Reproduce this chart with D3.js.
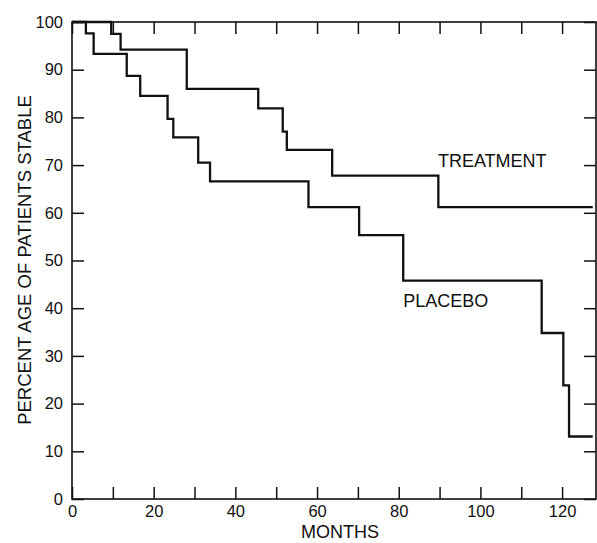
<!DOCTYPE html>
<html>
<head>
<meta charset="utf-8">
<script src="https://cdn.jsdelivr.net/npm/d3@7"></script>
<style>
  html, body { margin: 0; padding: 0; background: #fff; }
  text { font-family: "Liberation Sans", Arial, Helvetica, sans-serif; fill: #111; }
</style>
</head>
<body>
<svg id="chart" width="597" height="543"></svg>
<script>
// ---- data ----
const treatmentMonths = [0, 9.6, 11.9, 28.1, 45.6, 51.6, 52.6, 63.7, 89.7, 127.5];
const treatmentValues = [100, 97.5, 94.2, 86.0, 81.9, 77.0, 73.2, 67.8, 61.2, 61.2];
const placeboMonths = [0, 3.4, 5.3, 13.4, 16.7, 23.4, 24.8, 30.9, 33.8, 57.9, 70.3, 81.1, 115.0, 120.3, 121.7, 127.5];
const placeboValues = [100, 97.6, 93.3, 88.7, 84.5, 79.7, 75.8, 70.5, 66.6, 61.2, 55.3, 45.8, 34.8, 23.8, 13.1, 13.1];
const xTickValues = [0, 10, 20, 30, 40, 50, 60, 70, 80, 90, 100, 110, 120];
const xTickLabels = ["0", "", "20", "", "40", "", "60", "", "80", "", "100", "", "120"];
const yTickValues = [0, 10, 20, 30, 40, 50, 60, 70, 80, 90, 100];
const seriesLabels = ["TREATMENT", "PLACEBO"];

// ---- layout ----
const svg = d3.select("#chart");
const L = 72, R = 596, T = 22, B = 499;
const x = d3.scaleLinear().domain([0, 128.3]).range([L, R]);
const y = d3.scaleLinear().domain([0, 100]).range([B, T]);

// frame
svg.append("rect").attr("x", L).attr("y", T).attr("width", R - L).attr("height", B - T)
  .attr("fill", "none").attr("stroke", "#111").attr("stroke-width", 1.6);

function styleAxis(g) {
  g.select(".domain").remove();
  g.selectAll(".tick line").attr("stroke", "#111").attr("stroke-width", 1.5);
  g.selectAll(".tick text").style("font-size", "16.5px").attr("fill", "#111");
}

// bottom axis
svg.append("g").attr("transform", `translate(0,${B})`)
  .call(d3.axisBottom(x).tickValues(xTickValues).tickSize(-12).tickPadding(6)
    .tickFormat((d, i) => xTickLabels[i]))
  .call(styleAxis);
// top axis (ticks only)
svg.append("g").attr("transform", `translate(0,${T})`)
  .call(d3.axisTop(x).tickValues(xTickValues).tickSize(-12).tickFormat(""))
  .call(styleAxis);
// left axis
svg.append("g").attr("transform", `translate(${L},0)`)
  .call(d3.axisLeft(y).tickValues(yTickValues).tickSize(-12).tickPadding(9)
    .tickFormat(d3.format("d")))
  .call(styleAxis);
// right axis (ticks only)
svg.append("g").attr("transform", `translate(${R},0)`)
  .call(d3.axisRight(y).tickValues(yTickValues).tickSize(-12).tickFormat(""))
  .call(styleAxis);

// curves
const line = d3.line().x(d => x(d[0])).y(d => y(d[1])).curve(d3.curveStepAfter);
const tData = treatmentMonths.map((m, i) => [m, treatmentValues[i]]);
const pData = placeboMonths.map((m, i) => [m, placeboValues[i]]);
[tData, pData].forEach(d => {
  svg.append("path").datum(d).attr("d", line)
    .attr("fill", "none").attr("stroke", "#111").attr("stroke-width", 2.3)
    .attr("stroke-linejoin", "miter");
});

// series labels
svg.append("text").attr("x", x(89.6)).attr("y", y(69.7)).style("font-size", "18px").text(seriesLabels[0]);
svg.append("text").attr("x", x(81.1)).attr("y", y(40.3)).style("font-size", "18px").text(seriesLabels[1]);

// axis titles
svg.append("text").attr("x", 340).attr("y", 538).attr("text-anchor", "middle")
  .style("font-size", "18px").text("MONTHS");
svg.append("text").attr("transform", "translate(31,260) rotate(-90)").attr("text-anchor", "middle")
  .style("font-size", "18.5px").text("PERCENT AGE OF PATIENTS STABLE");
</script>
</body>
</html>
